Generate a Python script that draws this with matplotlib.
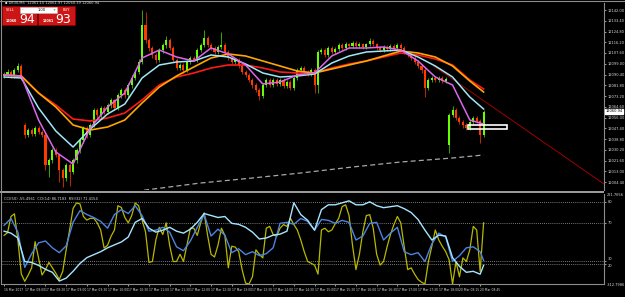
import matplotlib
matplotlib.use('Agg')
import matplotlib.pyplot as plt
from matplotlib.patches import Rectangle
from matplotlib import font_manager
import numpy as np

# ---- price data (DE30, M5) ----
opens = [12089.2, 12090.8, 12092.4, 12089.2, 12094.0, 12097.2, 12050.0, 12042.0, 12046.0, 12042.8,
         12047.6, 12044.4, 12042.0, 12018.0, 12022.0, 12030.0, 12026.0, 12014.0, 12007.6, 12018.0,
         12012.4, 12022.0, 12030.0, 12038.0, 12047.6, 12042.0, 12050.0, 12062.0, 12058.0, 12063.6,
         12060.4, 12066.0, 12070.0, 12063.6, 12074.0, 12078.0, 12074.0, 12082.0, 12087.6, 12092.4,
         12100.4, 12130.0, 12118.0, 12111.6, 12106.0, 12102.0, 12110.0, 12114.0, 12118.0, 12111.6,
         12102.0, 12095.6, 12098.0, 12094.0, 12100.4, 12103.6, 12102.0, 12110.0, 12114.0, 12119.6,
         12114.0, 12111.6, 12108.4, 12112.4, 12114.0, 12108.4, 12103.6, 12100.4, 12102.0, 12097.2,
         12092.4, 12090.0, 12086.0, 12082.0, 12078.0, 12073.2, 12082.0, 12086.0, 12082.0, 12086.0,
         12082.8, 12086.0, 12081.2, 12084.4, 12079.6, 12087.6, 12094.0, 12095.6, 12092.4, 12090.8,
         12094.0, 12082.0, 12108.4, 12110.0, 12106.0, 12111.6, 12108.4, 12110.8, 12114.0, 12111.6,
         12114.8, 12113.2, 12115.6, 12113.2, 12114.8, 12112.4, 12114.8, 12117.2, 12114.8, 12111.6,
         12110.0, 12112.4, 12110.8, 12113.2, 12111.6, 12114.0, 12111.6, 12108.4, 12106.0, 12103.6,
         12100.4, 12097.2, 12094.0, 12079.6, 12086.0, 12087.6, 12086.0, 12087.6, 12085.2, 12034.0,
         12058.0, 12062.0, 12055.6, 12052.4, 12050.0, 12047.6, 12052.4, 12055.6, 12053.2, 12042.0]
closes = [12090.8, 12092.4, 12089.2, 12094.0, 12097.2, 12087.6, 12042.0, 12046.0, 12042.8, 12047.6,
          12044.4, 12042.0, 12018.0, 12022.0, 12030.0, 12026.0, 12014.0, 12007.6, 12018.0, 12012.4,
          12022.0, 12030.0, 12038.0, 12047.6, 12042.0, 12050.0, 12062.0, 12058.0, 12063.6, 12060.4,
          12066.0, 12070.0, 12063.6, 12074.0, 12078.0, 12074.0, 12082.0, 12087.6, 12092.4, 12100.4,
          12130.0, 12118.0, 12111.6, 12106.0, 12102.0, 12110.0, 12114.0, 12118.0, 12111.6, 12102.0,
          12095.6, 12098.0, 12094.0, 12100.4, 12103.6, 12102.0, 12110.0, 12114.0, 12119.6, 12114.0,
          12111.6, 12108.4, 12112.4, 12114.0, 12108.4, 12103.6, 12100.4, 12102.0, 12097.2, 12092.4,
          12090.0, 12086.0, 12082.0, 12078.0, 12073.2, 12082.0, 12086.0, 12082.0, 12086.0, 12082.8,
          12086.0, 12081.2, 12084.4, 12079.6, 12087.6, 12094.0, 12095.6, 12092.4, 12090.8, 12094.0,
          12082.0, 12108.4, 12110.0, 12106.0, 12111.6, 12108.4, 12110.8, 12114.0, 12111.6, 12114.8,
          12113.2, 12115.6, 12113.2, 12114.8, 12112.4, 12114.8, 12117.2, 12114.8, 12111.6, 12110.0,
          12112.4, 12110.8, 12113.2, 12111.6, 12114.0, 12111.6, 12108.4, 12106.0, 12103.6, 12100.4,
          12097.2, 12094.0, 12079.6, 12086.0, 12087.6, 12086.0, 12087.6, 12085.2, 12086.8, 12058.0,
          12062.0, 12055.6, 12052.4, 12050.0, 12047.6, 12052.4, 12055.6, 12053.2, 12042.0, 12060.4]
highs = [12092.5, 12094.5, 12094.0, 12095.5, 12099.6, 12098.5, 12052.0, 12048.0, 12047.5, 12049.0,
         12049.0, 12046.0, 12043.5, 12024.0, 12032.0, 12031.5, 12027.0, 12016.0, 12020.0, 12019.5,
         12024.0, 12031.5, 12040.0, 12049.0, 12049.5, 12051.5, 12064.0, 12063.5, 12065.0, 12065.0,
         12067.5, 12072.0, 12071.0, 12075.5, 12080.0, 12079.5, 12083.5, 12090.0, 12094.0, 12103.0,
         12142.0, 12140.4, 12120.0, 12113.0, 12107.5, 12112.0, 12116.0, 12121.5, 12119.5, 12113.0,
         12103.5, 12100.0, 12099.5, 12102.0, 12105.0, 12105.0, 12112.0, 12116.0, 12126.0, 12121.0,
         12115.5, 12113.0, 12114.0, 12124.4, 12115.5, 12110.0, 12105.0, 12104.0, 12103.5, 12098.5,
         12094.0, 12091.5, 12087.5, 12083.5, 12079.5, 12083.5, 12088.0, 12087.5, 12087.5, 12088.0,
         12087.5, 12087.5, 12086.0, 12086.0, 12089.0, 12096.0, 12097.5, 12097.0, 12094.0, 12095.5,
         12095.5, 12110.0, 12112.0, 12111.5, 12113.0, 12113.0, 12112.5, 12116.0, 12115.5, 12116.5,
         12116.0, 12117.0, 12117.0, 12116.5, 12116.0, 12116.0, 12119.5, 12118.5, 12116.0, 12113.0,
         12114.0, 12114.0, 12114.5, 12115.0, 12115.5, 12115.5, 12113.0, 12109.5, 12107.5, 12105.0,
         12102.0, 12098.5, 12095.5, 12087.5, 12089.0, 12089.0, 12089.0, 12089.0, 12088.5, 12059.5,
         12065.2, 12063.5, 12057.0, 12054.0, 12051.5, 12054.0, 12057.5, 12057.0, 12054.5, 12062.0]
lows = [12087.5, 12089.0, 12087.5, 12087.5, 12092.5, 12086.0, 12040.0, 12040.5, 12041.0, 12041.0,
        12043.0, 12040.5, 12014.0, 12008.4, 12020.0, 12024.5, 12004.4, 12000.4, 12005.0, 12001.2,
        12010.5, 12020.0, 12028.0, 12036.0, 12040.0, 12040.5, 12048.5, 12056.0, 12056.0, 12058.5,
        12058.5, 12064.0, 12062.0, 12062.0, 12072.0, 12072.0, 12072.0, 12080.0, 12086.0, 12090.5,
        12098.5, 12116.0, 12109.5, 12104.0, 12100.0, 12100.5, 12108.0, 12112.0, 12110.0, 12100.5,
        12094.0, 12094.0, 12092.0, 12092.5, 12099.0, 12101.0, 12100.5, 12108.5, 12112.5, 12112.5,
        12110.0, 12107.0, 12107.0, 12111.0, 12107.0, 12102.0, 12099.0, 12098.5, 12095.5, 12091.0,
        12088.5, 12084.5, 12080.0, 12076.5, 12070.0, 12071.5, 12080.5, 12080.5, 12080.5, 12081.0,
        12081.0, 12079.5, 12079.5, 12078.0, 12078.0, 12086.0, 12092.5, 12091.0, 12089.0, 12089.5,
        12075.6, 12075.6, 12107.0, 12104.5, 12104.5, 12107.0, 12107.0, 12109.5, 12110.0, 12110.0,
        12111.5, 12112.0, 12112.0, 12111.5, 12111.0, 12111.0, 12113.0, 12113.0, 12110.0, 12108.5,
        12108.5, 12109.0, 12109.5, 12110.0, 12110.0, 12110.0, 12106.5, 12104.5, 12102.0, 12098.5,
        12095.5, 12092.0, 12072.4, 12078.0, 12084.5, 12084.5, 12084.5, 12083.5, 12083.5, 12027.6,
        12056.5, 12054.0, 12050.5, 12048.0, 12046.0, 12046.0, 12050.5, 12051.5, 12035.6, 12040.5]

# moving averages, read every 5 bars (last one at bar 139)
ma_bars = np.r_[np.arange(0, 140, 5), 139]
ma_fast = [12090.0, 12089.2, 12054.0, 12028.4, 12018.8, 12047.6, 12064.4, 12075.6, 12103.6, 12110.0,
           12104.4, 12101.2, 12111.6, 12106.8, 12098.0, 12082.8, 12084.4, 12090.0, 12091.6, 12105.2,
           12111.6, 12111.6, 12112.4, 12110.0, 12101.2, 12088.4, 12082.0, 12054.0, 12050.8]
ma_mid = [12088.4, 12087.6, 12063.6, 12045.2, 12032.4, 12046.8, 12058.8, 12066.8, 12087.6, 12098.0,
          12100.4, 12101.2, 12106.0, 12104.4, 12098.8, 12091.6, 12088.4, 12089.2, 12090.8, 12099.6,
          12105.2, 12108.4, 12109.2, 12110.0, 12104.4, 12097.2, 12088.4, 12072.4, 12062.8]
ma_orange = [12090.0, 12089.2, 12075.6, 12064.4, 12050.0, 12046.0, 12048.4, 12054.0, 12067.6, 12080.4,
             12089.2, 12096.4, 12103.6, 12106.8, 12105.2, 12101.2, 12097.2, 12093.2, 12091.6, 12094.8,
             12098.0, 12101.2, 12105.2, 12109.2, 12107.6, 12104.4, 12097.2, 12085.2, 12076.4]
ma_red = [12090.0, 12089.2, 12075.6, 12066.0, 12054.8, 12053.2, 12055.6, 12059.6, 12070.0, 12082.0,
          12088.4, 12091.6, 12095.6, 12098.0, 12098.0, 12095.6, 12092.4, 12091.6, 12091.6, 12095.6,
          12098.8, 12101.2, 12104.4, 12107.6, 12106.0, 12102.8, 12098.0, 12086.0, 12078.8]
ma_slow_bars = [36, 41, 57, 72, 86, 101, 115, 130, 139]
ma_slow = [11995.0, 11998.0, 12003.6, 12007.6, 12011.6, 12016.4, 12020.4, 12023.6, 12026.0]

trend_bars = [124.5, 173.9]
trend_prices = [12097.2, 12002.8]
box = (134.5, 145.8, 12046.8, 12050.0)   # bar0, bar1, price_lo, price_hi
last_price = 12060.94

price_ticks = [12142.0, 12133.4, 12124.8, 12116.2, 12107.6, 12099.0, 12090.4, 12081.8, 12073.2,
               12064.6, 12056.0, 12047.4, 12038.8, 12030.2, 12021.6, 12013.0, 12004.4]

# ---- oscillator window ----
osc_yellow = [54, 57, 75, 78, 49, 11, 3, 10, 18, 47,
              29, 10, 16, 24, 18, 12, 5, 14, 38, 60,
              84, 90, 89, 75, 71, 73, 73, 68, 60, 40,
              43, 53, 60, 87, 85, 74, 68, 76, 90, 87,
              71, 58, 24, 25, 49, 63, 55, 68, 43, 25,
              25, 33, 25, 43, 62, 62, 54, 68, 79, 54,
              33, 30, 43, 62, 54, 18, 42, 41, 36, 16,
              1, 0, 8, 38, 33, 29, 62, 64, 55, 53,
              62, 66, 64, 73, 66, 60, 49, 36, 25, 23,
              21, 11, 60, 62, 58, 60, 67, 73, 86, 88,
              76, 43, 16, 33, 58, 76, 77, 62, 33, 21,
              25, 41, 55, 66, 75, 68, 41, 16, 18, 11,
              5, 2, 0, 25, 42, 60, 49, 42, 36, 27,
              0, 25, 8, 29, 25, 38, 64, 60, 14, 68]
osc_bars = np.r_[np.arange(0, 140, 2), 139]
osc_blue = [65.2, 72.8, 57.6, 18.5, 33.7, 45.7, 47.8, 40.2, 34.8, 42.4,
            68.5, 81.5, 77.2, 73.9, 69.6, 62.0, 77.2, 82.6, 78.3, 87.0,
            76.1, 58.7, 59.8, 63.0, 57.6, 41.3, 37.0, 47.8, 63.0, 77.2,
            53.3, 60.9, 54.3, 34.8, 39.1, 32.6, 35.9, 31.5, 33.7, 40.2,
            67.4, 68.5, 66.3, 72.8, 69.6, 59.8, 71.7, 70.7, 67.4, 70.7,
            68.5, 48.9, 53.3, 67.4, 68.5, 48.9, 56.5, 63.0, 35.9, 32.6,
            34.8, 25.0, 44.6, 56.5, 52.2, 25.0, 31.5, 40.2, 41.3, 35.9, 26.1]
osc_cyan = [58.7, 56.5, 51.1, 25.0, 23.9, 20.7, 16.3, 13.0, 3.3, 6.5,
            14.1, 22.8, 29.3, 32.6, 35.9, 40.2, 43.5, 46.7, 52.2, 68.5,
            72.8, 62.0, 57.6, 59.8, 63.0, 58.7, 56.5, 60.9, 68.5, 78.3,
            76.1, 73.9, 75.0, 67.4, 66.3, 63.0, 57.6, 50.0, 51.1, 54.3,
            55.4, 58.7, 90.2, 77.2, 70.7, 59.8, 82.6, 88.0, 88.0, 90.2,
            92.4, 88.0, 88.0, 91.3, 87.0, 84.8, 85.9, 87.0, 83.7, 79.4,
            71.7, 59.8, 48.9, 54.3, 53.3, 29.3, 19.6, 13.0, 14.1, 10.9, 20.7]
levels = [91.4, 67.8, 25.6, 22.2]
level_labels = ['80', '70', '30', '20']

time_labels = ['16 Mar 2017', '17 Mar 08:00', '17 Mar 08:30', '17 Mar 09:00', '17 Mar 09:30',
               '17 Mar 10:00', '17 Mar 10:30', '17 Mar 11:00', '17 Mar 11:30', '17 Mar 12:00',
               '17 Mar 12:30', '17 Mar 13:00', '17 Mar 13:30', '17 Mar 14:00', '17 Mar 14:30',
               '17 Mar 15:00', '17 Mar 15:30', '17 Mar 16:00', '17 Mar 16:30', '17 Mar 17:00',
               '17 Mar 17:30', '17 Mar 18:00', '20 Mar 08:15', '20 Mar 08:45']

# narrow font for the tiny terminal labels, if it is there
names = {f.name for f in font_manager.fontManager.ttflist}
NARROW = ['Liberation Sans Narrow', 'DejaVu Sans'] if 'Liberation Sans Narrow' in names else ['DejaVu Sans']
plt.rcParams['font.family'] = NARROW

W, H = 625, 297
TXT = '#d8d8d8'
GRID = '#8c8c8c'
FS = 3.2 if NARROW[0] != 'DejaVu Sans' else 2.6


def rect(x0, y0, x1, y1):
    return [x0 / W, 1 - y1 / H, (x1 - x0) / W, (y1 - y0) / H]


fig = plt.figure(figsize=(W / 100, H / 100), dpi=100, facecolor='black')
ax = fig.add_axes(rect(2, 3, 604, 190))
ind = fig.add_axes(rect(2, 194, 604, 284), sharex=ax)
for a in (ax, ind):
    a.set_facecolor('black')
    for s in a.spines.values():
        s.set_visible(False)
    a.spines['right'].set_visible(True)
    a.spines['right'].set_color(GRID)
    a.spines['right'].set_linewidth(0.8)
ind.spines['bottom'].set_visible(True)
ind.spines['bottom'].set_color(GRID)
ind.spines['bottom'].set_linewidth(0.8)

# candles
o, hi, lo, c = map(np.array, (opens, highs, lows, closes))
bars = np.arange(len(c))
up = c >= o
ax.vlines(bars, lo, hi, colors=np.where(up, '#3fbf00', '#d83000'), lw=0.6, zorder=2)
ax.bar(bars, np.maximum(np.abs(c - o), 0.5), bottom=np.minimum(o, c), width=0.6,
       color=np.where(up, '#66ff00', '#ff3a00'), lw=0, zorder=3)

ax.plot(ma_slow_bars, ma_slow, color='#a8a8a8', lw=0.9, ls=(0, (4, 2.5)), zorder=2)
ax.plot(ma_bars, ma_red, color='#ff1a1a', lw=1.2, zorder=4)
ax.plot(ma_bars, ma_orange, color='#ffa500', lw=1.2, zorder=4)
ax.plot(ma_bars, ma_mid, color='#9fe8f8', lw=1.1, zorder=5)
ax.plot(ma_bars, ma_fast, color='#dd66ee', lw=1.1, zorder=5)
ax.plot(trend_bars, trend_prices, color='#a00000', lw=0.7, zorder=4)
ax.add_patch(Rectangle((box[0], box[2]), box[1] - box[0], box[3] - box[2],
                       fill=False, ec='white', lw=1.2, zorder=6))

ax.set_xlim(-0.6, 173.9)
ax.set_ylim(11998.0, 12147.6)
ax.yaxis.tick_right()
ax.set_yticks(price_ticks)
ax.set_yticklabels([f'{t:.2f}' for t in price_ticks])
ax.tick_params(axis='y', colors=TXT, labelsize=FS, length=1.5, width=0.5, pad=1.2)
ax.tick_params(axis='x', bottom=False, labelbottom=False)
ax.annotate(f'{last_price:.2f}', xy=(1, last_price), xycoords=('axes fraction', 'data'),
            xytext=(1.0, 0), textcoords='offset points', fontsize=FS, color='black',
            va='center', ha='left', zorder=20,
            bbox=dict(boxstyle='square,pad=0.15', fc='white', ec='white'))

# oscillator window
for lv in levels:
    ind.axhline(lv, color='#a0a0a0', lw=0.6, ls=(0, (1, 1.5)), zorder=1)
ind.plot(bars, osc_yellow, color='#b8b800', lw=0.9, zorder=3)
ind.plot(osc_bars, osc_blue, color='#4d84e0', lw=1.0, zorder=4)
ind.plot(osc_bars, osc_cyan, color='#a6e6ff', lw=1.0, zorder=4)
ind.set_ylim(0, 100)
ind.yaxis.tick_right()
ind.set_yticks(levels)
ind.set_yticklabels(level_labels)
for lab, va in zip(ind.get_yticklabels(), ['center', 'center', 'bottom', 'top']):
    lab.set_va(va)
ind.tick_params(axis='y', colors=TXT, labelsize=FS, length=1.5, width=0.5, pad=1.2)
ind.set_xticks(np.arange(0, 140, 6))
ind.set_xticklabels(time_labels, ha='left')
ind.tick_params(axis='x', colors=TXT, labelsize=FS - 0.4, length=1.5, width=0.5, pad=1.5)
ind.text(1.005, 0.99, '221.7656', transform=ind.transAxes, fontsize=FS, color=TXT,
         va='center', ha='left')
ind.text(1.005, 0.01, '-312.7986', transform=ind.transAxes, fontsize=FS, color=TXT,
         va='top', ha='left')
ind.text(0.003, 0.95, 'CCI(50) -55.4961  CCI(14) 86.7183  RSI(32) 71.4154',
         transform=ind.transAxes, fontsize=FS, color=TXT, va='center', ha='left')

# window frame and trade panel, drawn in pixel coordinates
ov = fig.add_axes([0, 0, 1, 1], zorder=10)
ov.set_xlim(0, W)
ov.set_ylim(H, 0)
ov.axis('off')
ov.patch.set_alpha(0)
ov.add_patch(Rectangle((0, 190.5), 604, 2.6, color='#9a9a9a', lw=0))
ov.plot([0, W], [0.6, 0.6], color=GRID, lw=0.8)
ov.plot([0.6, 0.6], [0, 284], color=GRID, lw=0.8)

ov.text(5, 3.0, '\u25aa DE30,M5  12061.15 12061.97 12060.39 12060.94', fontsize=FS,
        color=TXT, va='center', ha='left')
ov.add_patch(Rectangle((2, 6), 35, 19, fc='#cc1515', ec='#8a0000', lw=0.5))
ov.add_patch(Rectangle((38, 6), 37, 19, fc='#cc1515', ec='#8a0000', lw=0.5))
ov.add_patch(Rectangle((20, 7), 37, 5.5, fc='white', ec='#bbbbbb', lw=0.4))
ov.text(6, 9.8, 'SELL', fontsize=FS, color='white', va='center', ha='left')
ov.text(63, 9.8, 'BUY', fontsize=FS, color='white', va='center', ha='left')
ov.text(21.5, 9.8, '\u2013', fontsize=FS, color='#444444', va='center', ha='left')
ov.text(56, 9.8, '+', fontsize=FS, color='#444444', va='center', ha='right')
ov.text(46, 9.8, '1.00', fontsize=FS, color='black', va='center', ha='right')
ov.text(6, 21, '12060', fontsize=FS - 0.3, color='white', va='center', ha='left', weight='bold')
ov.text(19.5, 19.8, '94', fontsize=9, color='white', va='center', ha='left')
ov.text(43, 21, '12061', fontsize=FS - 0.3, color='white', va='center', ha='left', weight='bold')
ov.text(55, 19.8, '93', fontsize=9, color='white', va='center', ha='left')

fig.savefig('out.png', dpi=100, facecolor='black')
